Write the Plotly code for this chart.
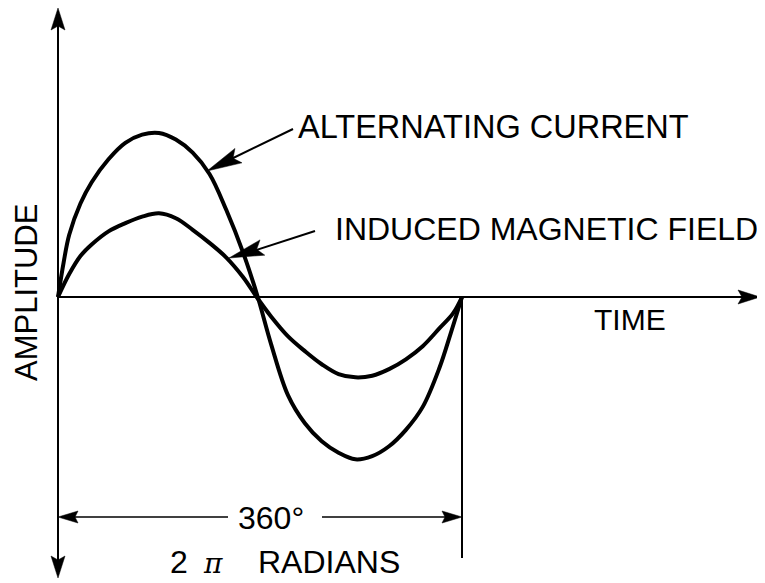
import math
import plotly.graph_objects as go

# ---- data (degrees of one cycle, amplitude in % of the current peak) ----
ac_deg = [0, 5, 10, 20, 30, 45, 60, 75, 90, 105, 120, 135, 150, 165, 178,
          190, 205, 220, 235, 250, 265, 280, 295, 310, 325, 340, 350, 360]
ac_amp = [0, 21, 38, 57, 70, 84, 94, 99, 100, 96, 88, 75, 53, 27, 0,
          -29, -60, -77, -88, -95, -99, -97, -91, -81, -67, -43, -22, 0]

mf_deg = [0, 10, 20, 30, 45, 60, 75, 90, 105, 120, 135, 150, 165, 177,
          190, 205, 220, 235, 250, 265, 280, 295, 310, 325, 340, 352, 360]
mf_amp = [0, 14, 25, 32, 40, 45, 49, 51, 48, 41, 33, 24, 12, 0,
          -12, -24, -33, -41, -47, -49, -48, -44, -38, -30, -19, -10, 0]

labels = {
    "ac": "ALTERNATING CURRENT",
    "mf": "INDUCED MAGNETIC FIELD",
    "time": "TIME",
    "amp": "AMPLITUDE",
    "deg": "360°",
    "rad": "RADIANS",
}

W, H = 765, 583
OFF = 8                     # page body margin of the html page
X0, X360 = 58, 462          # pixel of 0° and 360°
Y0, PEAK = 297, 164         # pixel of zero amplitude, pixels per 100 %
k = 360 / (X360 - X0)
xr = [(OFF - X0) * k, (W - X0) * k]
yr = [-(H - Y0) / PEAK * 100, (Y0 - OFF) / PEAK * 100]

FONT = "Liberation Sans, Arial, Helvetica, sans-serif"

fig = go.Figure()
fig.add_trace(go.Scatter(x=ac_deg, y=ac_amp, mode="lines",
                         line=dict(color="black", width=4, shape="spline", smoothing=1.0),
                         hoverinfo="skip", showlegend=False))
fig.add_trace(go.Scatter(x=mf_deg, y=mf_amp, mode="lines",
                         line=dict(color="black", width=4, shape="spline", smoothing=1.0),
                         hoverinfo="skip", showlegend=False))
# invisible trace on the pixel overlay axes
fig.add_trace(go.Scatter(x=[100], y=[100], xaxis="x2", yaxis="y2", mode="markers",
                         marker=dict(opacity=0), hoverinfo="skip", showlegend=False))

shapes = []

def line(x1, y1, x2, y2, w=2):
    shapes.append(dict(type="line", xref="x2", yref="y2", x0=x1, y0=y1, x1=x2, y1=y2,
                       line=dict(color="black", width=w)))

def head(tx, ty, fx, fy, L, Wd, n):
    dx, dy = tx - fx, ty - fy
    d = math.hypot(dx, dy)
    ux, uy = dx / d, dy / d
    px, py = -uy, ux
    bx, by = tx - ux * L, ty - uy * L
    pts = [(tx, ty), (bx + px * Wd, by + py * Wd), (bx + ux * n, by + uy * n), (bx - px * Wd, by - py * Wd)]
    path = "M " + " L ".join(f"{a:.2f},{b:.2f}" for a, b in pts) + " Z"
    shapes.append(dict(type="path", xref="x2", yref="y2", path=path, fillcolor="black",
                       line=dict(color="black", width=0.5)))

# axes
line(58, 14, 58, 572)
head(58, 8, 58, 100, 22, 7, 4)
head(58, 578, 58, 500, 22, 7, 4)
line(58, 297, 752, 297)
head(760, 297, 700, 297, 22, 7, 4)
# end of cycle marker
line(462, 297, 462, 558)
# dimension line
line(62, 517, 228, 517, 1.6)
line(322, 517, 458, 517, 1.6)
head(58, 517, 120, 517, 20, 6, 3)
head(462, 517, 400, 517, 20, 6, 3)
# pointer arrows
line(293, 129, 225, 162, 2)
head(207, 171, 293, 129, 35, 8, 6)
line(315, 231, 250, 252, 2)
head(229, 258, 315, 231, 35, 8, 6)

fig.update_layout(shapes=shapes)

ann = []
def text(t, x, y, size=32, xanchor="center", angle=0, family=FONT):
    ann.append(dict(text=t, x=x, y=y, xref="x2", yref="y2", showarrow=False, xanchor=xanchor,
                    yanchor="middle", textangle=angle, font=dict(family=family, size=size, color="black")))

text(labels["ac"], 296, 127, size=32.5, xanchor="left")
text(labels["mf"], 333, 229, xanchor="left")
text(labels["time"], 592, 319, size=30, xanchor="left")
text(labels["amp"], 26, 293, angle=-90, size=31)
text(labels["deg"], 271, 518)
text("2", 179, 562)
text("<i>π</i>", 213, 563, size=28, family="DejaVu Serif, Times New Roman, serif")
text(labels["rad"], 256, 562, xanchor="left")

fig.update_layout(
    annotations=ann,
    width=W - OFF, height=H - OFF, autosize=False,
    margin=dict(l=0, r=0, t=0, b=0, pad=0),
    paper_bgcolor="white", plot_bgcolor="white",
    xaxis=dict(range=xr, visible=False, fixedrange=True, domain=[0, 1]),
    yaxis=dict(range=yr, visible=False, fixedrange=True, domain=[0, 1]),
    xaxis2=dict(range=[OFF, W], visible=False, overlaying="x", fixedrange=True),
    yaxis2=dict(range=[H, OFF], visible=False, overlaying="y", fixedrange=True),
    showlegend=False,
)

fig.write_html("out.html")
